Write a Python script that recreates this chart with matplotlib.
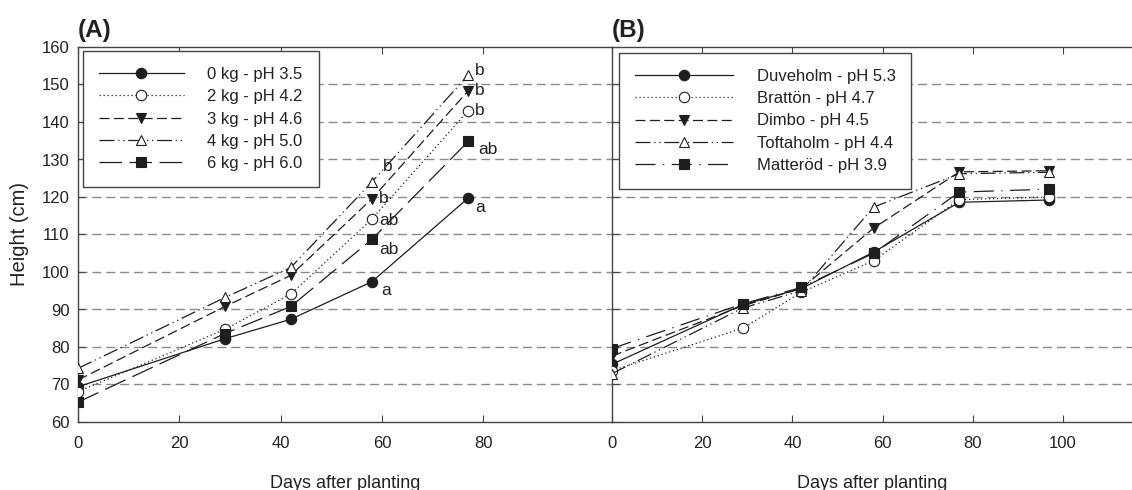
import matplotlib.pyplot as plt
import numpy as np

plt.rcParams['font.family'] = ['Liberation Sans', 'DejaVu Sans']

# panel A: lime treatments
days_a = [0, 29, 42, 58, 77]
labels_a = ['0 kg - pH 3.5', '2 kg - pH 4.2', '3 kg - pH 4.6', '4 kg - pH 5.0', '6 kg - pH 6.0']
kg0 = [69.4, 82.2, 87.4, 97.4, 119.7]
kg2 = [68.1, 84.7, 94.1, 114.1, 143.0]
kg3 = [71.2, 90.8, 99.1, 119.5, 148.3]
kg4 = [74.3, 93.2, 101.2, 124.0, 152.5]
kg6 = [65.3, 83.6, 90.8, 108.7, 134.8]
# significance letters at day 58 and day 77
letters_58 = ['a', 'ab', 'b', 'b', 'ab']
letters_77 = ['a', 'b', 'b', 'b', 'ab']

# panel B: sites
days_b = [0, 29, 42, 58, 77, 97]
labels_b = ['Duveholm - pH 5.3', 'Brattön - pH 4.7', 'Dimbo - pH 4.5', 'Toftaholm - pH 4.4', 'Matteröd - pH 3.9']
duveholm = [75.4, 91.3, 95.6, 105.3, 118.6, 119.2]
bratton = [73.7, 85.0, 94.6, 103.0, 119.3, 120.0]
dimbo = [77.6, 91.0, 95.6, 111.7, 126.7, 127.0]
toftaholm = [72.9, 90.4, 95.0, 117.3, 126.2, 126.6]
matterod = [79.6, 91.5, 95.9, 105.0, 121.3, 122.1]

ink = '#1e1e1e'
styles = [
    dict(ls='-', marker='o', mfc=ink),
    dict(ls=(0, (1, 2.2)), marker='o', mfc='white'),
    dict(ls=(0, (8, 3.5)), marker='v', mfc=ink),
    dict(ls=(0, (12, 3, 1, 3, 1, 3)), marker='^', mfc='white'),
    dict(ls=(0, (18, 6)), marker='s', mfc=ink),
]
style_b5 = dict(ls=(0, (16, 6, 1, 6)), marker='s', mfc=ink)

fig = plt.figure(figsize=(11.32, 4.9), dpi=100)
axA = fig.add_axes([78 / 1132, 1 - 422 / 490, (612 - 78) / 1132, 375 / 490])
axB = fig.add_axes([612 / 1132, 1 - 422 / 490, (1132 - 612) / 1132, 375 / 490])


def setup(ax, xmax, xticks):
    ax.set_ylim(60, 160)
    ax.set_xlim(0, xmax)
    ax.set_xticks(xticks)
    ax.set_yticks(np.arange(60, 161, 10))
    for y in range(70, 160, 10):
        ax.axhline(y, color='#8a8a8a', lw=1.0, ls=(0, (6.5, 3.5)), zorder=0)
    for s in ax.spines.values():
        s.set_color('#444444')
        s.set_linewidth(1.0)
    ax.tick_params(axis='both', direction='in', length=5, color='#444444',
                   labelsize=12, labelcolor='#222222', top=True)
    ax.tick_params(axis='x', pad=10)
    ax.tick_params(axis='y', pad=6)


setup(axA, 105.4, [0, 20, 40, 60, 80])
setup(axB, 115.3, [0, 20, 40, 60, 80, 100])
axA.spines['right'].set_visible(False)
axB.spines['right'].set_visible(False)
axB.tick_params(axis='y', labelleft=False)

for vals, lab, st in zip([kg0, kg2, kg3, kg4, kg6], labels_a, styles):
    axA.plot(days_a, vals, color=ink, lw=0.9, ms=7.5, mec=ink, mew=0.8,
             label=lab, zorder=3, **st)

sb = styles[:4] + [style_b5]
for vals, lab, st in zip([duveholm, bratton, dimbo, toftaholm, matterod], labels_b, sb):
    axB.plot(days_b, vals, color=ink, lw=0.9, ms=7.5, mec=ink, mew=0.8,
             label=lab, zorder=3, **st)

# letters
series_a = [kg0, kg2, kg3, kg4, kg6]
off58 = [(7, -6), (5, -1), (5, 0), (8, 11), (5, -7)]
off77 = [(5, -7), (5, 0), (5, 0), (5, 3), (7, -6)]
for vals, l58, l77, o58, o77 in zip(series_a, letters_58, letters_77, off58, off77):
    axA.annotate(l58, (days_a[3], vals[3]), xytext=o58, textcoords='offset points',
                 ha='left', va='center', fontsize=12.5, color='#222222')
    axA.annotate(l77, (days_a[4], vals[4]), xytext=o77, textcoords='offset points',
                 ha='left', va='center', fontsize=12.5, color='#222222')

for ax, x0, top, hl in [(axA, 0.0094, 0.989, 5.1), (axB, 0.0135, 0.984, 5.9)]:
    leg = ax.legend(loc='upper left', bbox_to_anchor=(x0, top), borderaxespad=0,
                    fontsize=12, handlelength=hl, handletextpad=1.4,
                    labelspacing=0.44, fancybox=False, edgecolor='#444444',
                    framealpha=1, borderpad=0.95)
    leg.get_frame().set_linewidth(1.0)
    for t in leg.get_texts():
        t.set_color('#222222')

axA.set_ylabel('Height (cm)', fontsize=14.5, color='#222222', labelpad=9)
axA.set_xlabel('Days after planting', fontsize=13, color='#222222', labelpad=17)
axB.set_xlabel('Days after planting', fontsize=13, color='#222222', labelpad=17)

fig.text(78 / 1132, 1 - 30 / 490, '(A)', fontsize=17.5, fontweight='bold', va='center', color='#222222')
fig.text(612 / 1132, 1 - 30 / 490, '(B)', fontsize=17.5, fontweight='bold', va='center', color='#222222')

fig.savefig('out.png', dpi=100)
